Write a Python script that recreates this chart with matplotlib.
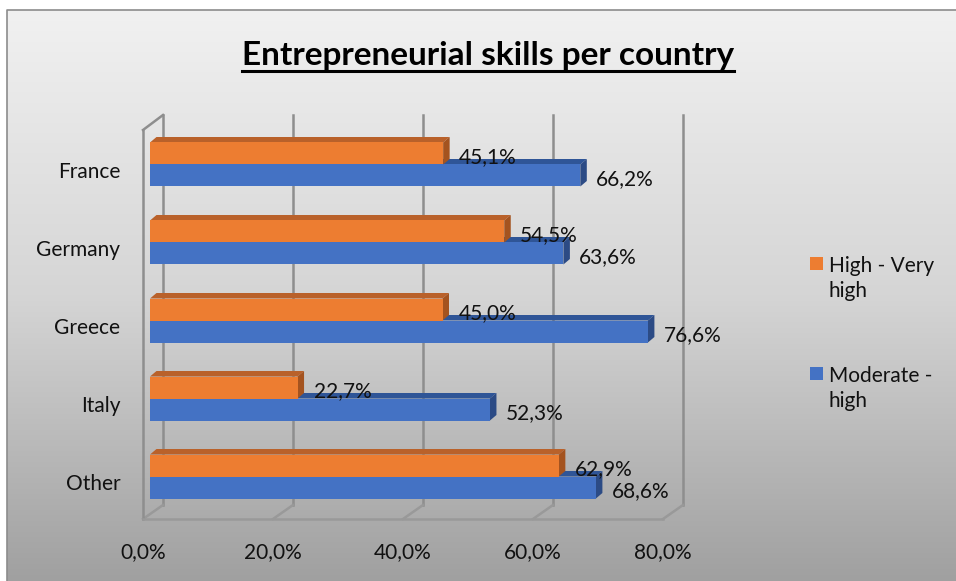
"""Entrepreneurial skills per country, drawn as a pseudo-3D bar chart."""

import matplotlib
matplotlib.use("Agg")
import matplotlib.pyplot as plt
import numpy as np
from matplotlib.patches import Polygon, Rectangle
from matplotlib.lines import Line2D

countries = ["France", "Germany", "Greece", "Italy", "Other"]
high_very_high = [45.1, 54.5, 45.0, 22.7, 62.9]
moderate_high = [66.2, 63.6, 76.6, 52.3, 68.6]
x_ticks = [0, 20, 40, 60, 80]
x_tick_labels = ["0,0%", "20,0%", "40,0%", "60,0%", "80,0%"]
series_names = ["High - Very\nhigh", "Moderate -\nhigh"]

ORANGE = ("#ED7D31", "#B9612A", "#A4531F")   # front, top, side
BLUE = ("#4472C4", "#2F5597", "#2C4B85")
FONT = "Lato"
FS = 15

W, H = 956, 581
fig = plt.figure(figsize=(W / 100, H / 100), dpi=100, facecolor="white")

# background panel with vertical grey gradient and thin border
bg = fig.add_axes([0, 0, 1, 1], zorder=-5)
bg.set_xlim(0, W)
bg.set_ylim(H, 0)
bg.axis("off")
grad = np.linspace(0, 1, 256).reshape(-1, 1)
bg.imshow(grad, cmap=matplotlib.colors.LinearSegmentedColormap.from_list(
    "g", ["#f1f1f1", "#d5d5d5", "#a0a0a0"]), extent=[7, W, H, 10],
    aspect="auto", interpolation="bicubic")
bg.plot([7, 7, W], [H, 10, 10], color="#8c8c8c", lw=1.2)

# plot axes: x in percent, y in category slots (one slot = 78 px)
px_per_pct = 6.5
slot = 78.0
left, right = 150, 150 + 80 * px_per_pct
top, bottom = 115, 519
ax = fig.add_axes([left / W, 1 - bottom / H, (right - left) / W, (bottom - top) / H])
ax.set_xlim(0, 80)
ax.set_ylim((bottom - 164.5) / slot, (top - 164.5) / slot)
ax.axis("off")

bh = 22 / slot                 # bar thickness
dx, dy = 6.5 / px_per_pct, 5.5 / slot   # depth offsets
back_dx, front_dx = 13 / px_per_pct, -7 / px_per_pct
y_back_top, y_front_top = (top - 164.5) / slot, (130 - 164.5) / slot
y_back_floor, y_front_floor = (505 - 164.5) / slot, (bottom - 164.5) / slot
grid_c, floor_c = "#8e8e8e", "#999999"

# back wall gridlines, left wall and floor
for v in x_ticks:
    ax.add_line(Line2D([v + back_dx] * 2, [y_back_top, y_back_floor], color=grid_c, lw=1.8, clip_on=False, zorder=1))
    ax.add_line(Line2D([v + front_dx, v + back_dx], [y_front_floor, y_back_floor], color=floor_c, lw=1.8, clip_on=False, zorder=1))
ax.add_line(Line2D([front_dx, front_dx], [y_front_top, y_front_floor], color=grid_c, lw=1.8, clip_on=False, zorder=1))
ax.add_line(Line2D([front_dx, back_dx], [y_front_top, y_back_top], color=grid_c, lw=1.8, clip_on=False, zorder=1))
ax.add_line(Line2D([front_dx, x_ticks[-1] + front_dx], [y_front_floor] * 2, color=floor_c, lw=1.8, clip_on=False, zorder=1))


def bar3d(y0, val, cols, z):
    # y0 is the upper edge of the front face
    front, topc, side = cols
    y1 = y0 + bh
    ax.add_patch(Polygon([(0, y0), (dx, y0 - dy), (val + dx, y0 - dy), (val, y0)], closed=True,
                         facecolor=topc, edgecolor="none", zorder=z))
    ax.add_patch(Polygon([(val, y0), (val + dx, y0 - dy), (val + dx, y1 - dy), (val, y1)], closed=True,
                         facecolor=side, edgecolor="none", zorder=z))
    ax.barh(y0 + bh / 2, val, height=bh, color=front, zorder=z + 0.5)


for i, (hv, mh) in enumerate(zip(high_very_high, moderate_high)):
    bar3d(i, mh, BLUE, 2)
    bar3d(i - bh, hv, ORANGE, 3)
    for val, yc in ((hv, i - bh / 2), (mh, i + bh / 2)):
        ax.annotate(f"{val:.1f}%".replace(".", ","), xy=(val, yc), xytext=(11.5, -2.5),
                    textcoords="offset points", ha="left", va="center",
                    fontsize=FS, family=FONT, color="#111111", zorder=6)

# category labels
for i, name in enumerate(countries):
    ax.annotate(name, xy=(0, i + dy), xytext=(-21.5, -1.5), textcoords="offset points",
                ha="right", va="center", fontsize=FS, family=FONT, color="#111111",
                annotation_clip=False)

# value axis labels along the front edge of the floor
for v, lab in zip(x_ticks, x_tick_labels):
    ax.annotate(lab, xy=(v + front_dx, y_front_floor), xytext=(0, -23.5), textcoords="offset points",
                ha="center", va="center", fontsize=FS, family=FONT, color="#111111",
                annotation_clip=False)

# legend
for (name, cols), ypx in zip(zip(series_names, [ORANGE, BLUE]), [257, 367]):
    fig.patches.append(Rectangle((810 / W, 1 - (ypx + 13) / H), 13 / W, 13 / H,
                                 transform=fig.transFigure, facecolor=cols[0], edgecolor="none"))
    fig.text(829 / W, 1 - (ypx - 1) / H, name, ha="left", va="top", fontsize=FS, family=FONT,
             color="#111111", linespacing=1.33)

# title with underline
title = fig.text(488 / W, 1 - 65 / H, "Entrepreneurial skills per country", ha="center",
                 va="baseline", fontsize=24, fontweight="bold", family=FONT, color="black")
fig.canvas.draw()
bb = title.get_window_extent().transformed(fig.transFigure.inverted())
fig.add_artist(Line2D([bb.x0, bb.x1], [1 - 71 / H] * 2, color="black", lw=2.2))

fig.savefig("out.png", dpi=100)
